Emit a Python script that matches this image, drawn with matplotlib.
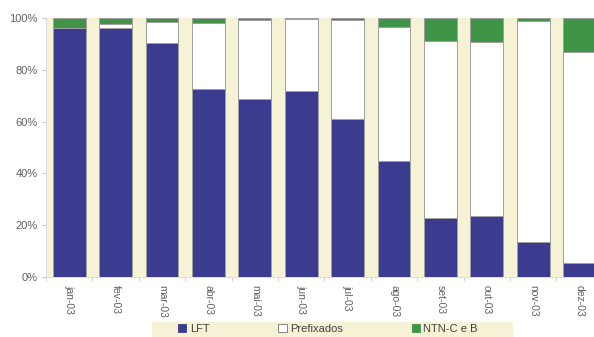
import matplotlib
matplotlib.use("Agg")
import matplotlib.pyplot as plt
from matplotlib.patches import Patch, Rectangle
from matplotlib.ticker import FuncFormatter, FixedLocator
import numpy as np

plt.rcParams['font.family'] = ['Liberation Sans', 'DejaVu Sans']

months = ["jan-03", "fev-03", "mar-03", "abr-03", "mai-03", "jun-03",
          "jul-03", "ago-03", "set-03", "out-03", "nov-03", "dez-03"]
lft = [96.0, 96.0, 90.2, 72.5, 68.8, 72.0, 61.0, 44.9, 22.7, 23.6, 13.4, 5.3]
prefixados = [0.0, 1.5, 8.2, 25.6, 30.6, 27.5, 38.2, 51.5, 68.6, 67.3, 85.6, 81.7]
ntn_cb = [4.0, 2.5, 1.6, 1.9, 0.6, 0.5, 0.8, 3.6, 8.7, 9.1, 1.0, 13.0]
series_names = ["LFT", "Prefixados", "NTN-C e B"]

c_lft = "#3b3b8f"
c_pre = "#ffffff"
c_ntn = "#3f9447"
cream = "#f6f2d6"
edge = "#a0a0a0"
txt = "#606060"

fig = plt.figure(figsize=(5.94, 3.37), dpi=100)
fig.patch.set_facecolor("white")
ax = fig.add_axes([46 / 594, 60 / 337, 556.8 / 594, 259 / 337])
ax.set_facecolor(cream)

x = np.arange(len(months))
w = 0.71
lft_a = np.array(lft) / 100
pre_a = np.array(prefixados) / 100
ntn_a = np.array(ntn_cb) / 100
ax.bar(x, lft_a, w, color=c_lft, edgecolor=edge, linewidth=0.7, zorder=2)
ax.bar(x, pre_a, w, bottom=lft_a, color=c_pre, edgecolor=edge, linewidth=0.7, zorder=2)
ax.bar(x, ntn_a, w, bottom=lft_a + pre_a, color=c_ntn, edgecolor=edge, linewidth=0.7, zorder=2)

ax.set_xlim(-0.5, len(months) - 0.5)
ax.set_ylim(0, 1)
ax.set_yticks(np.linspace(0, 1, 6))
ax.yaxis.set_major_formatter(FuncFormatter(lambda v, p: f"{v * 100:.0f}%"))
ax.set_xticks(x)
ax.set_xticklabels(months, rotation=-90, fontsize=7.5, color=txt)
ax.xaxis.set_minor_locator(FixedLocator(np.arange(-0.5, len(months), 1.0)))
ax.tick_params(axis="x", which="major", length=0, pad=6)
ax.tick_params(axis="x", which="minor", length=3, color="#c8c8c8")
ax.tick_params(axis="y", length=3, color="#c8c8c8", labelsize=8, labelcolor=txt, pad=3)
for s in ["top", "right"]:
    ax.spines[s].set_visible(False)
for s in ["left", "bottom"]:
    ax.spines[s].set_color("#d8d8d8")
    ax.spines[s].set_linewidth(0.6)

# legend strip along the bottom
fig.patches.append(Rectangle((152 / 594, 0), 361 / 594, 15 / 337,
                             transform=fig.transFigure, facecolor=cream,
                             edgecolor="none", zorder=0))
handles = [Patch(facecolor=c, edgecolor=e, linewidth=0.6)
           for c, e in [(c_lft, c_lft), (c_pre, "#707070"), (c_ntn, c_ntn)]]
fig.legend(handles, series_names, loc="center", ncol=3,
           bbox_to_anchor=(328 / 594, 8 / 337), frameon=False,
           fontsize=8, handlelength=0.75, handleheight=0.75,
           handletextpad=0.3, columnspacing=6.2, labelcolor="#404040",
           borderpad=0)

fig.savefig("out.png", dpi=100)
